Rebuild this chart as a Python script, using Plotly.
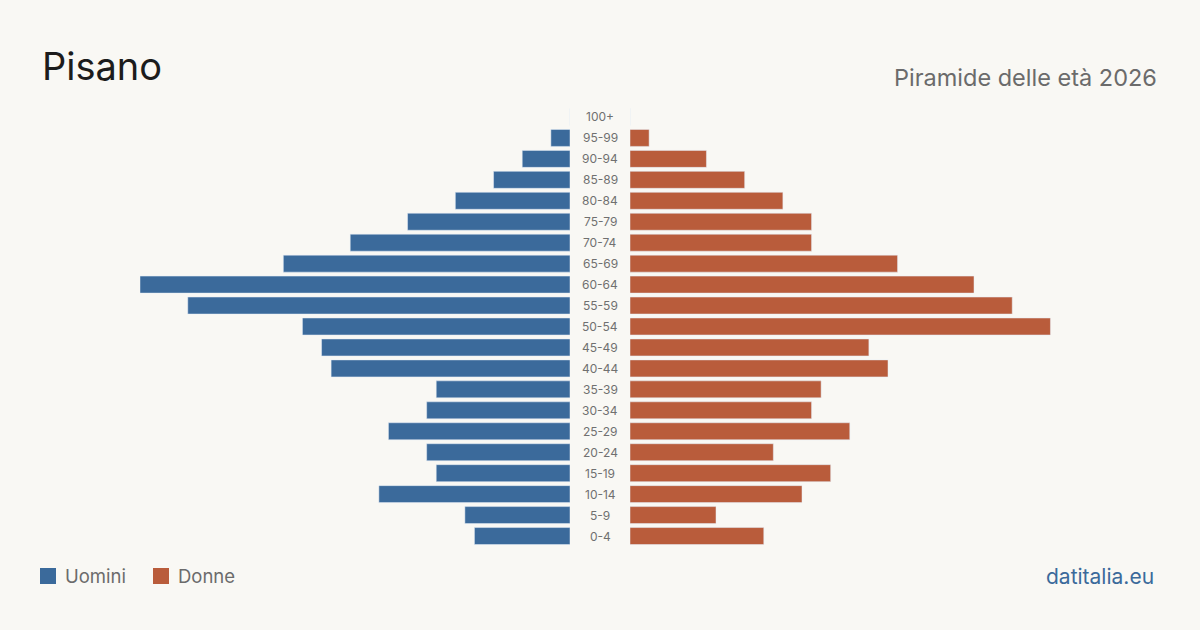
import plotly.graph_objects as go

age_groups = ["0-4", "5-9", "10-14", "15-19", "20-24", "25-29", "30-34", "35-39",
              "40-44", "45-49", "50-54", "55-59", "60-64", "65-69", "70-74", "75-79",
              "80-84", "85-89", "90-94", "95-99", "100+"]
men = [10, 11, 20, 14, 15, 19, 15, 14, 25, 26, 28, 40, 45, 30, 23, 17, 12, 8, 5, 2, 0]
women = [14, 9, 18, 21, 15, 23, 19, 20, 27, 25, 44, 40, 36, 28, 19, 19, 16, 12, 8, 2, 0]

title = "Pisano"
subtitle = "Piramide delle età 2026"
source = "datitalia.eu"
legend_labels = ["Uomini", "Donne"]

C_MEN = "#3b6a9b"
C_WOMEN = "#b95c3b"
BG = "#f9f8f4"
FONT = "Inter"

W, H = 1200, 630
XMAX = 45
yy = list(range(len(age_groups)))

fig = go.Figure()
fig.add_trace(go.Bar(y=yy, x=men, orientation="h", marker_color=C_MEN,
                     xaxis="x", yaxis="y", name=legend_labels[0], showlegend=False,
                     hoverinfo="x+text", text=age_groups, textposition="none"))
fig.add_trace(go.Bar(y=yy, x=women, orientation="h", marker_color=C_WOMEN,
                     xaxis="x2", yaxis="y", name=legend_labels[1], showlegend=False,
                     hoverinfo="x+text", text=age_groups, textposition="none"))

y_top_px, y_bot_px = 106.5, 546.5
fig.update_layout(
    width=W, height=H,
    margin=dict(l=0, r=0, t=0, b=0),
    paper_bgcolor=BG, plot_bgcolor="rgba(0,0,0,0)",
    bargap=0.19,
    xaxis=dict(domain=[140 / W, 570 / W], range=[XMAX, 0], visible=False, fixedrange=True),
    xaxis2=dict(domain=[630 / W, 1060 / W], range=[0, XMAX], visible=False, fixedrange=True),
    yaxis=dict(domain=[1 - y_bot_px / H, 1 - y_top_px / H], range=[-0.5, len(age_groups) - 0.5],
               visible=False, fixedrange=True),
    font=dict(family=FONT),
)

for i, lab in enumerate(age_groups):
    fig.add_annotation(x=0.5, xref="paper", y=i, yref="y", text=lab, showarrow=False,
                       font=dict(size=12, color="#707070", family=FONT),
                       xanchor="center", yanchor="middle")

fig.add_annotation(x=40 / W, y=1 - 66 / H, xref="paper", yref="paper", text=title,
                   showarrow=False, xanchor="left", yanchor="middle",
                   font=dict(size=38, color="#1c1c1c", family=FONT))
fig.add_annotation(x=1159 / W, y=1 - 77 / H, xref="paper", yref="paper", text=subtitle,
                   showarrow=False, xanchor="right", yanchor="middle",
                   font=dict(size=23.5, color="#6b6b6b", family=FONT))
fig.add_annotation(x=1156 / W, y=1 - 576 / H, xref="paper", yref="paper", text=source,
                   showarrow=False, xanchor="right", yanchor="middle",
                   font=dict(size=21, color="#3b6a9b", family=FONT))

for (x0, col, lab) in [(40, C_MEN, legend_labels[0]), (153, C_WOMEN, legend_labels[1])]:
    fig.add_shape(type="rect", xref="paper", yref="paper",
                  x0=x0 / W, x1=(x0 + 16) / W, y0=1 - 584 / H, y1=1 - 568 / H,
                  fillcolor=col, line_width=0)
    fig.add_annotation(x=(x0 + 23) / W, y=1 - 576 / H, xref="paper", yref="paper", text=lab,
                       showarrow=False, xanchor="left", yanchor="middle",
                       font=dict(size=18.5, color="#6b6b6b", family=FONT))

fig.write_html("out.html", config=dict(displayModeBar=False))
